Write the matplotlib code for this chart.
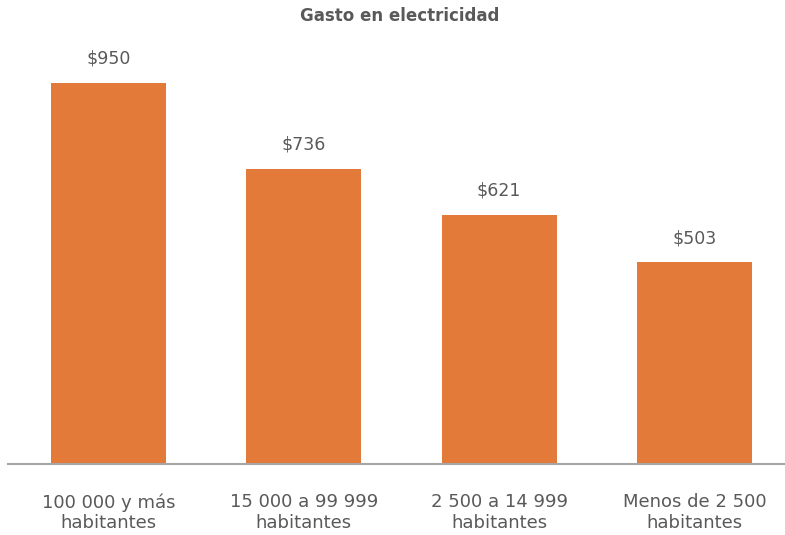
import matplotlib
matplotlib.use("Agg")
import matplotlib.pyplot as plt

categories = ["100 000 y más\nhabitantes", "15 000 a 99 999\nhabitantes",
              "2 500 a 14 999\nhabitantes", "Menos de 2 500\nhabitantes"]
values = [950, 736, 621, 503]
value_labels = ["$950", "$736", "$621", "$503"]

plt.rcParams['font.family'] = ['DejaVu Sans']
text_color = "#595959"
bar_color = "#E47A3A"

fig = plt.figure(figsize=(7.85, 5.35), dpi=100)
# axes box in figure fractions: left 8px, right 785px, baseline at 464px, top at 40px
ax = fig.add_axes([8/785, 1 - 464/535, 777/785, (464 - 40)/535])

x = range(len(categories))
bars = ax.bar(x, values, width=0.59, color=bar_color, zorder=2)
ax.set_xlim(-0.515, 3.464)
ax.set_ylim(0, (464 - 40) / 0.401)

for xi, v, lab in zip(x, values, value_labels):
    ax.annotate(lab, (xi, v), xytext=(0, 11), textcoords="offset points",
                ha="center", va="bottom", fontsize=12.5, color=text_color)

ax.set_xticks(list(x))
ax.set_xticklabels(categories, fontsize=13, color=text_color, linespacing=1.2)
ax.tick_params(axis="x", length=0, pad=21)
ax.set_yticks([])
for s in ["top", "right", "left"]:
    ax.spines[s].set_visible(False)
ax.spines["bottom"].set_color("#A6A6A6")
ax.spines["bottom"].set_linewidth(1.5)

fig.text(400/785, 1 - 16/535, "Gasto en electricidad", ha="center", va="center",
         fontsize=12, fontweight="bold", color=text_color)

fig.savefig("out.png", dpi=100)
